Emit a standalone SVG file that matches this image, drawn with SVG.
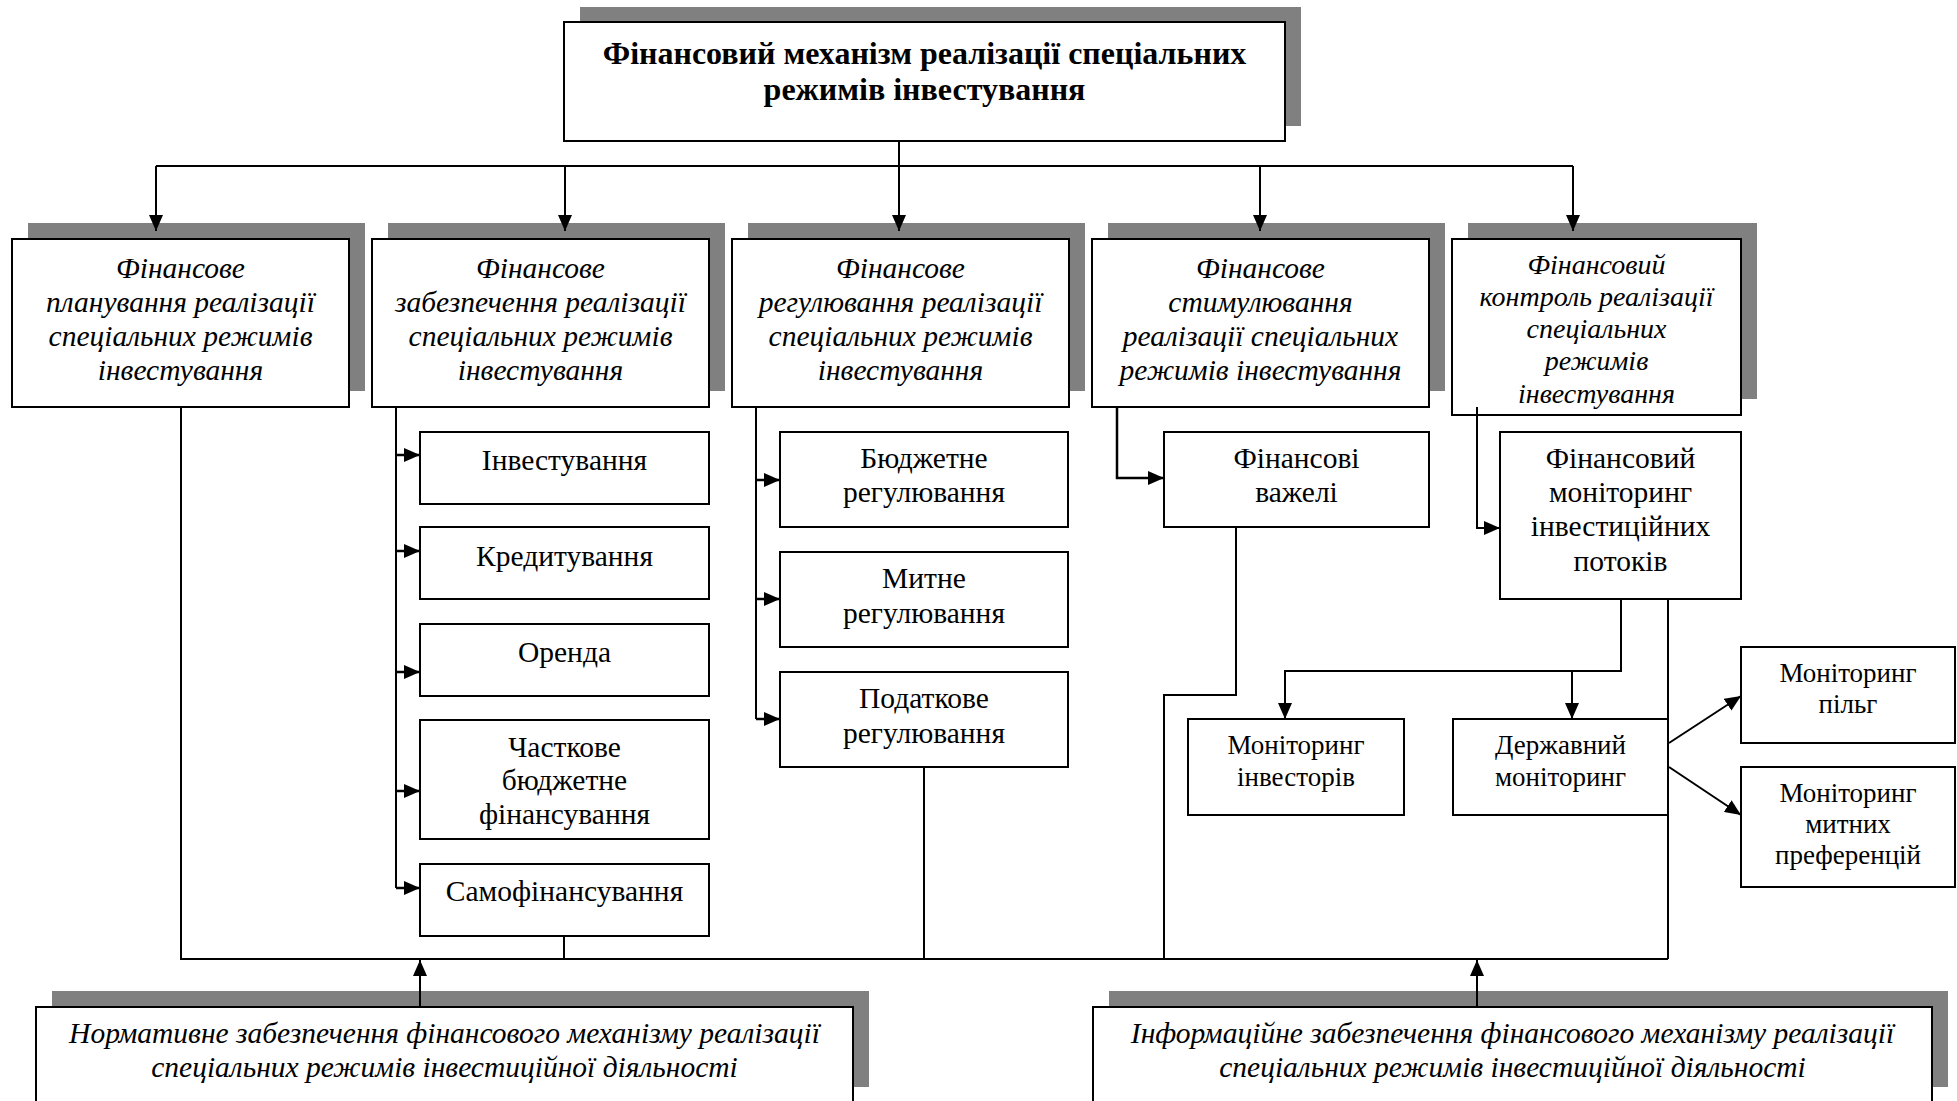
<svg xmlns="http://www.w3.org/2000/svg" width="1957" height="1101" viewBox="0 0 1957 1101">
<style>
.box{fill:#fff;stroke:#000;stroke-width:2}
.sh{fill:#808080;stroke:none}
.ln{fill:none;stroke:#000;stroke-width:2}
.stub{fill:none;stroke:#000;stroke-width:2.5}
text{font-family:"Liberation Serif","Times New Roman",serif;fill:#000;text-anchor:middle}
.t{font-size:32px;font-weight:bold}
.it{font-size:29.5px;font-style:italic}
.it5{font-size:28px;font-style:italic}
.r{font-size:29.5px}
.rs{font-size:27px}
</style>
<defs>
<marker id="aBig" markerUnits="userSpaceOnUse" markerWidth="18" markerHeight="14" refX="16" refY="7" orient="auto"><path d="M0,0 L16,7 L0,14 z" fill="#000"/></marker>
<marker id="aSm" markerUnits="userSpaceOnUse" markerWidth="18" markerHeight="14" refX="16" refY="7" orient="auto"><path d="M0,0 L16,7 L0,14 z" fill="#000"/></marker>
<marker id="aMid" markerUnits="userSpaceOnUse" markerWidth="18" markerHeight="14" refX="16" refY="7" orient="auto"><path d="M0,0 L16,7 L0,14 z" fill="#000"/></marker>
</defs>
<rect x="0" y="0" width="1957" height="1101" fill="#fff"/>

<g id="n-top">
<rect class="sh" x="580" y="7" width="721" height="119"/>
<rect class="box" x="564" y="22" width="721" height="119"/>
<text class="t" x="924.5" y="64">Фінансовий механізм реалізації спеціальних</text>
<text class="t" x="924.5" y="100">режимів інвестування</text>
</g>

<g id="n-plan">
<rect class="sh" x="28" y="223" width="337" height="168"/>
<rect class="box" x="12" y="239" width="337" height="168"/>
<text class="it" x="180.5" y="278">Фінансове</text>
<text class="it" x="180.5" y="312">планування реалізації</text>
<text class="it" x="180.5" y="346">спеціальних режимів</text>
<text class="it" x="180.5" y="380">інвестування</text>
</g>

<g id="n-zabezp">
<rect class="sh" x="388" y="223" width="337" height="168"/>
<rect class="box" x="372" y="239" width="337" height="168"/>
<text class="it" x="540.5" y="278">Фінансове</text>
<text class="it" x="540.5" y="312">забезпечення реалізації</text>
<text class="it" x="540.5" y="346">спеціальних режимів</text>
<text class="it" x="540.5" y="380">інвестування</text>
</g>

<g id="n-regul">
<rect class="sh" x="748" y="223" width="337" height="168"/>
<rect class="box" x="732" y="239" width="337" height="168"/>
<text class="it" x="900.5" y="278">Фінансове</text>
<text class="it" x="900.5" y="312">регулювання реалізації</text>
<text class="it" x="900.5" y="346">спеціальних режимів</text>
<text class="it" x="900.5" y="380">інвестування</text>
</g>

<g id="n-stym">
<rect class="sh" x="1108" y="223" width="337" height="168"/>
<rect class="box" x="1092" y="239" width="337" height="168"/>
<text class="it" x="1260.5" y="278">Фінансове</text>
<text class="it" x="1260.5" y="312">стимулювання</text>
<text class="it" x="1260.5" y="346">реалізації спеціальних</text>
<text class="it" x="1260.5" y="380">режимів інвестування</text>
</g>

<g id="n-kontrol">
<rect class="sh" x="1468" y="223" width="289" height="176"/>
<rect class="box" x="1452" y="239" width="289" height="176"/>
<text class="it5" x="1596.5" y="274">Фінансовий</text>
<text class="it5" x="1596.5" y="306">контроль реалізації</text>
<text class="it5" x="1596.5" y="338">спеціальних</text>
<text class="it5" x="1596.5" y="370">режимів</text>
<text class="it5" x="1596.5" y="403">інвестування</text>
</g>

<g id="n-invest">
<rect class="box" x="420" y="432" width="289" height="72"/>
<text class="r" x="564.5" y="470">Інвестування</text>
</g>
<g id="n-kredyt">
<rect class="box" x="420" y="527" width="289" height="72"/>
<text class="r" x="564.5" y="566">Кредитування</text>
</g>
<g id="n-orenda">
<rect class="box" x="420" y="624" width="289" height="72"/>
<text class="r" x="564.5" y="662">Оренда</text>
</g>
<g id="n-chastk">
<rect class="box" x="420" y="720" width="289" height="119"/>
<text class="r" x="564.5" y="757">Часткове</text>
<text class="r" x="564.5" y="790">бюджетне</text>
<text class="r" x="564.5" y="824">фінансування</text>
</g>
<g id="n-samofin">
<rect class="box" x="420" y="864" width="289" height="72"/>
<text class="r" x="564.5" y="901">Самофінансування</text>
</g>

<g id="n-budzh">
<rect class="box" x="780" y="432" width="288" height="95"/>
<text class="r" x="924" y="468">Бюджетне</text>
<text class="r" x="924" y="502">регулювання</text>
</g>
<g id="n-mytne">
<rect class="box" x="780" y="552" width="288" height="95"/>
<text class="r" x="924" y="588">Митне</text>
<text class="r" x="924" y="623">регулювання</text>
</g>
<g id="n-podat">
<rect class="box" x="780" y="672" width="288" height="95"/>
<text class="r" x="924" y="708">Податкове</text>
<text class="r" x="924" y="743">регулювання</text>
</g>

<g id="n-vazheli">
<rect class="box" x="1164" y="432" width="265" height="95"/>
<text class="r" x="1296.5" y="468">Фінансові</text>
<text class="r" x="1296.5" y="502">важелі</text>
</g>

<g id="n-fmip">
<rect class="box" x="1500" y="432" width="241" height="167"/>
<text class="r" x="1620.5" y="468">Фінансовий</text>
<text class="r" x="1620.5" y="502">моніторинг</text>
<text class="r" x="1620.5" y="536">інвестиційних</text>
<text class="r" x="1620.5" y="571">потоків</text>
</g>

<g id="n-moninv">
<rect class="box" x="1188" y="719" width="216" height="96"/>
<text class="rs" x="1296" y="754">Моніторинг</text>
<text class="rs" x="1296" y="786">інвесторів</text>
</g>
<g id="n-derzh">
<rect class="box" x="1453" y="719" width="215" height="96"/>
<text class="rs" x="1560.5" y="754">Державний</text>
<text class="rs" x="1560.5" y="786">моніторинг</text>
</g>
<g id="n-pilg">
<rect class="box" x="1741" y="647" width="214" height="96"/>
<text class="rs" x="1848" y="682">Моніторинг</text>
<text class="rs" x="1848" y="713">пільг</text>
</g>
<g id="n-mytni">
<rect class="box" x="1741" y="767" width="214" height="120"/>
<text class="rs" x="1848" y="802">Моніторинг</text>
<text class="rs" x="1848" y="833">митних</text>
<text class="rs" x="1848" y="864">преференцій</text>
</g>

<g id="n-normat">
<rect class="sh" x="52" y="991" width="817" height="96"/>
<rect class="box" x="36" y="1007" width="817" height="96"/>
<text class="it" x="444.5" y="1043">Нормативне забезпечення фінансового механізму реалізації</text>
<text class="it" x="444.5" y="1077">спеціальних режимів інвестиційної діяльності</text>
</g>

<g id="n-inform">
<rect class="sh" x="1109" y="991" width="839" height="96"/>
<rect class="box" x="1093" y="1007" width="839" height="96"/>
<text class="it" x="1512.5" y="1043">Інформаційне забезпечення фінансового механізму реалізації</text>
<text class="it" x="1512.5" y="1077">спеціальних режимів інвестиційної діяльності</text>
</g>

<g id="connectors">
<path class="ln" d="M156,166 H1573"/>
<path class="ln" d="M899,141 V231" marker-end="url(#aBig)"/>
<path class="ln" d="M156,166 V231" marker-end="url(#aBig)"/>
<path class="ln" d="M565,166 V231" marker-end="url(#aBig)"/>
<path class="ln" d="M1260,166 V231" marker-end="url(#aBig)"/>
<path class="ln" d="M1573,166 V231" marker-end="url(#aBig)"/>
<path class="ln" d="M181,407 V959 H1668"/>
<path class="ln" d="M396,407 V888"/>
<path class="stub" d="M396,455 H420" marker-end="url(#aSm)"/>
<path class="stub" d="M396,551 H420" marker-end="url(#aSm)"/>
<path class="stub" d="M396,672 H420" marker-end="url(#aSm)"/>
<path class="stub" d="M396,791 H420" marker-end="url(#aSm)"/>
<path class="stub" d="M396,888 H420" marker-end="url(#aSm)"/>
<path class="ln" d="M564,936 V959"/>
<path class="ln" d="M756,407 V719"/>
<path class="stub" d="M756,480 H780" marker-end="url(#aSm)"/>
<path class="stub" d="M756,599 H780" marker-end="url(#aSm)"/>
<path class="stub" d="M756,719 H780" marker-end="url(#aSm)"/>
<path class="ln" d="M924,767 V959"/>
<path class="stub" d="M1117,407 V478 H1164" marker-end="url(#aSm)"/>
<path class="ln" d="M1236,527 V695 H1164 V959"/>
<path class="ln" d="M1477,407 V528 H1500" marker-end="url(#aSm)"/>
<path class="ln" d="M1621,599 V671 H1285 V719" marker-end="url(#aMid)"/>
<path class="ln" d="M1572,671 V719" marker-end="url(#aMid)"/>
<path class="ln" d="M1668,599 V959"/>
<path class="ln" d="M1669,743 L1741,696" marker-end="url(#aMid)"/>
<path class="ln" d="M1669,767 L1741,815" marker-end="url(#aMid)"/>
<path class="ln" d="M420,1007 V960" marker-end="url(#aMid)"/>
<path class="ln" d="M1477,1007 V960" marker-end="url(#aMid)"/>
</g>
</svg>
